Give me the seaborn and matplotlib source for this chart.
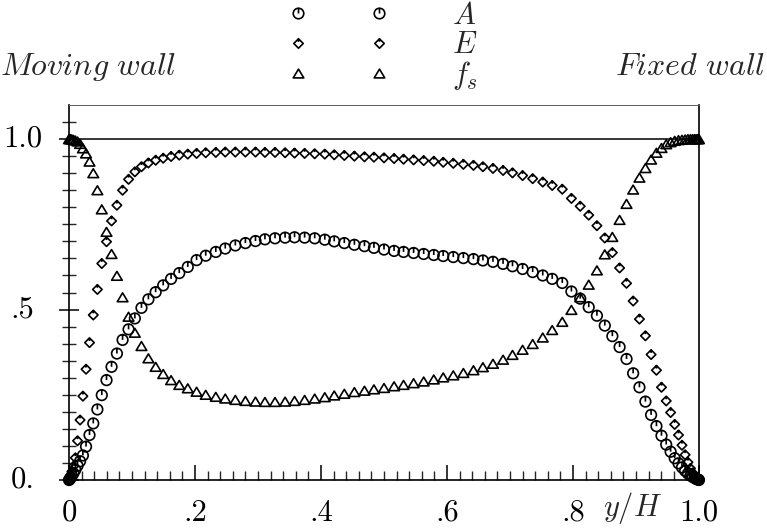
import matplotlib
matplotlib.use("Agg")
import matplotlib.pyplot as plt
import seaborn as sns
from matplotlib.path import Path
from matplotlib.lines import Line2D
from matplotlib.ticker import FixedLocator

# Wall-normal position (clustered mesh near both walls)
y_over_H = [
    0.0, 0.001, 0.0025, 0.0045, 0.007, 0.010, 0.0135, 0.0175, 0.022, 0.027,
    0.0325, 0.0385, 0.045, 0.052, 0.0595, 0.0675, 0.076, 0.085, 0.0945, 0.1045,
    0.115, 0.126, 0.1375, 0.1495, 0.162, 0.175, 0.1885, 0.2025, 0.217,
    0.233, 0.248, 0.264, 0.280, 0.296, 0.311, 0.327, 0.343, 0.358, 0.374,
    0.390, 0.406, 0.421, 0.437, 0.453, 0.469, 0.484, 0.500, 0.516, 0.531,
    0.547, 0.563, 0.579, 0.594, 0.610, 0.626, 0.642, 0.657, 0.673, 0.689,
    0.704, 0.720, 0.736, 0.752, 0.767,
    0.783, 0.7975, 0.8115, 0.825, 0.838, 0.8505, 0.8625, 0.874, 0.885, 0.8955,
    0.9055, 0.915, 0.924, 0.9325, 0.9405, 0.948, 0.955, 0.9615, 0.9675, 0.973,
    0.978, 0.9825, 0.9865, 0.990, 0.993, 0.9955, 0.9975, 0.999, 1.0,
]

A = [
    0.0, 0.002, 0.006, 0.012, 0.02, 0.03, 0.042, 0.055, 0.072, 0.098,
    0.132, 0.166, 0.207, 0.249, 0.293, 0.332, 0.371, 0.411, 0.442, 0.474,
    0.505, 0.53, 0.551, 0.571, 0.59, 0.607, 0.625, 0.645, 0.658,
    0.669, 0.679, 0.688, 0.695, 0.701, 0.706, 0.709, 0.711, 0.712, 0.711,
    0.709, 0.705, 0.700, 0.695, 0.690, 0.686, 0.681, 0.676, 0.672, 0.669,
    0.666, 0.663, 0.660, 0.657, 0.654, 0.651, 0.648, 0.644, 0.640, 0.634,
    0.627, 0.619, 0.610, 0.600, 0.590,
    0.578, 0.553, 0.532, 0.507, 0.482, 0.453, 0.422, 0.390, 0.355, 0.313,
    0.272, 0.230, 0.191, 0.158, 0.130, 0.104, 0.083, 0.064, 0.049, 0.037,
    0.027, 0.019, 0.013, 0.009, 0.006, 0.003, 0.002, 0.001, 0.0,
]

E = [
    0.0, 0.006, 0.014, 0.025, 0.04, 0.065, 0.115, 0.176, 0.246, 0.325,
    0.403, 0.484, 0.559, 0.635, 0.699, 0.760, 0.806, 0.850, 0.882, 0.904,
    0.919, 0.930, 0.938, 0.944, 0.949, 0.953, 0.956, 0.958, 0.960,
    0.961, 0.962, 0.962, 0.962, 0.962, 0.961, 0.961, 0.960, 0.959, 0.958,
    0.957, 0.956, 0.954, 0.952, 0.950, 0.948, 0.947, 0.945, 0.943, 0.941,
    0.939, 0.937, 0.935, 0.932, 0.929, 0.926, 0.923, 0.919, 0.914, 0.908,
    0.901, 0.893, 0.884, 0.874, 0.864,
    0.853, 0.826, 0.803, 0.777, 0.746, 0.710, 0.667, 0.622, 0.577, 0.525,
    0.472, 0.423, 0.368, 0.322, 0.272, 0.232, 0.198, 0.163, 0.132, 0.102,
    0.074, 0.052, 0.034, 0.021, 0.012, 0.006, 0.003, 0.001, 0.0,
]

f_s = [
    1.0, 1.0, 1.0, 0.999, 0.998, 0.996, 0.993, 0.986, 0.973, 0.958,
    0.934, 0.900, 0.850, 0.794, 0.728, 0.663, 0.599, 0.536, 0.479, 0.432,
    0.393, 0.357, 0.332, 0.311, 0.293, 0.279, 0.269, 0.259, 0.250,
    0.244, 0.239, 0.235, 0.232, 0.230, 0.229, 0.229, 0.230, 0.232, 0.235,
    0.239, 0.243, 0.248, 0.253, 0.258, 0.262, 0.266, 0.270, 0.275, 0.279,
    0.284, 0.289, 0.295, 0.301, 0.307, 0.314, 0.322, 0.331, 0.341, 0.353,
    0.367, 0.382, 0.399, 0.418, 0.440,
    0.464, 0.499, 0.536, 0.573, 0.615, 0.662, 0.713, 0.763, 0.810, 0.852,
    0.887, 0.915, 0.940, 0.960, 0.974, 0.985, 0.991, 0.995, 0.997, 0.998,
    0.999, 1.0, 1.0, 1.0, 1.0, 1.0, 1.0, 1.0, 1.0,
]

series_labels = ["$A$", "$E$", "$f_s$"]
x_tick_values = [0.0, 0.2, 0.4, 0.6, 0.8, 1.0]
x_tick_labels = ["0", ".2", ".4", ".6", ".8", "1.0"]
y_tick_values = [0.0, 0.5, 1.0]
y_tick_labels = ["0.", ".5", "1.0"]

sns.set_theme(style="ticks")
plt.rcParams["font.family"] = ["DejaVu Serif"]
plt.rcParams["mathtext.fontset"] = "cm"

# Marker shapes: circle and diamond with a short stroke from the top, open triangle
stroke = Path([(0, 1), (0, 0)], [Path.MOVETO, Path.LINETO])
circle_tick = Path.make_compound_path(Path.unit_circle(), stroke)
diamond = Path([(0, 1), (1, 0), (0, -1), (-1, 0), (0, 1)],
               [Path.MOVETO, Path.LINETO, Path.LINETO, Path.LINETO, Path.CLOSEPOLY])
diamond_tick = Path.make_compound_path(
    diamond, Path([(0, 1), (0, 0.35)], [Path.MOVETO, Path.LINETO]))
triangle = Path([(0, 0.75), (-0.9, -0.75), (0.9, -0.75), (0, 0.75)],
                [Path.MOVETO, Path.LINETO, Path.LINETO, Path.CLOSEPOLY])

fig = plt.figure(figsize=(7.67, 5.28), dpi=100)
ax = fig.add_axes([0.0900, 0.0909, 0.8213, 0.7102])

ax.axhline(1.0, color="black", lw=1.1, zorder=1)

styles = [(A, circle_tick, 58), (E, diamond_tick, 46), (f_s, triangle, 58)]
for values, mk, size in styles:
    sns.scatterplot(x=y_over_H, y=values, ax=ax, marker=mk, s=size,
                    facecolor="none", edgecolor="black", linewidth=1.2,
                    legend=False, zorder=3, clip_on=False)

ax.set_xlim(0, 1)
ax.set_ylim(0, 1.1)

ax.xaxis.set_major_locator(FixedLocator(x_tick_values))
ax.set_xticklabels(x_tick_labels, fontfamily="cmr10")
ax.xaxis.set_minor_locator(FixedLocator([0.02 * i for i in range(51)]))
ax.yaxis.set_major_locator(FixedLocator(y_tick_values))
ax.set_yticklabels(y_tick_labels, fontfamily="cmr10")
ax.yaxis.set_minor_locator(FixedLocator([0.05 * i for i in range(22)]))

ax.tick_params(axis="x", which="major", direction="in", length=11, width=1.1,
               pad=14, labelsize=22, colors="black")
ax.tick_params(axis="x", which="minor", direction="in", length=6.5, width=1.0)
ax.tick_params(axis="y", which="major", direction="inout", length=15, width=1.1,
               pad=26, labelsize=22, colors="black")
ax.tick_params(axis="y", which="minor", direction="inout", length=9.5, width=1.0)
for lbl in ax.get_yticklabels():
    lbl.set_horizontalalignment("center")
    lbl.set_verticalalignment("center")

ax.set_xlabel("$y/H$", fontsize=22, va="center")
ax.xaxis.set_label_coords(0.894, -0.075)
ax.set_ylabel("")

for side in ["left", "bottom", "right"]:
    ax.spines[side].set_color("black")
    ax.spines[side].set_linewidth(1.2)
ax.spines["top"].set_color("0.35")
ax.spines["top"].set_linewidth(0.7)
ax.set_facecolor("white")
fig.patch.set_facecolor("white")

fig.text(0.0, 0.858, "$Moving\\ wall$", fontsize=23, ha="left", va="baseline")
fig.text(0.997, 0.858, "$Fixed\\ wall$", fontsize=23, ha="right", va="baseline")

handles = [
    Line2D([], [], marker=circle_tick, ls="none", mfc="none", mec="black",
           ms=7.6, mew=1.2),
    Line2D([], [], marker=diamond_tick, ls="none", mfc="none", mec="black",
           ms=6.8, mew=1.2),
    Line2D([], [], marker=triangle, ls="none", mfc="none", mec="black",
           ms=7.6, mew=1.2),
]
fig.legend(handles, series_labels, numpoints=2, handlelength=3.25,
           handletextpad=2.1, frameon=False, fontsize=22, loc="upper left",
           bbox_to_anchor=(288.7 / 767, 1.0), borderpad=0, borderaxespad=0,
           labelspacing=-0.05)

fig.savefig("out.png", dpi=100, facecolor="white")
